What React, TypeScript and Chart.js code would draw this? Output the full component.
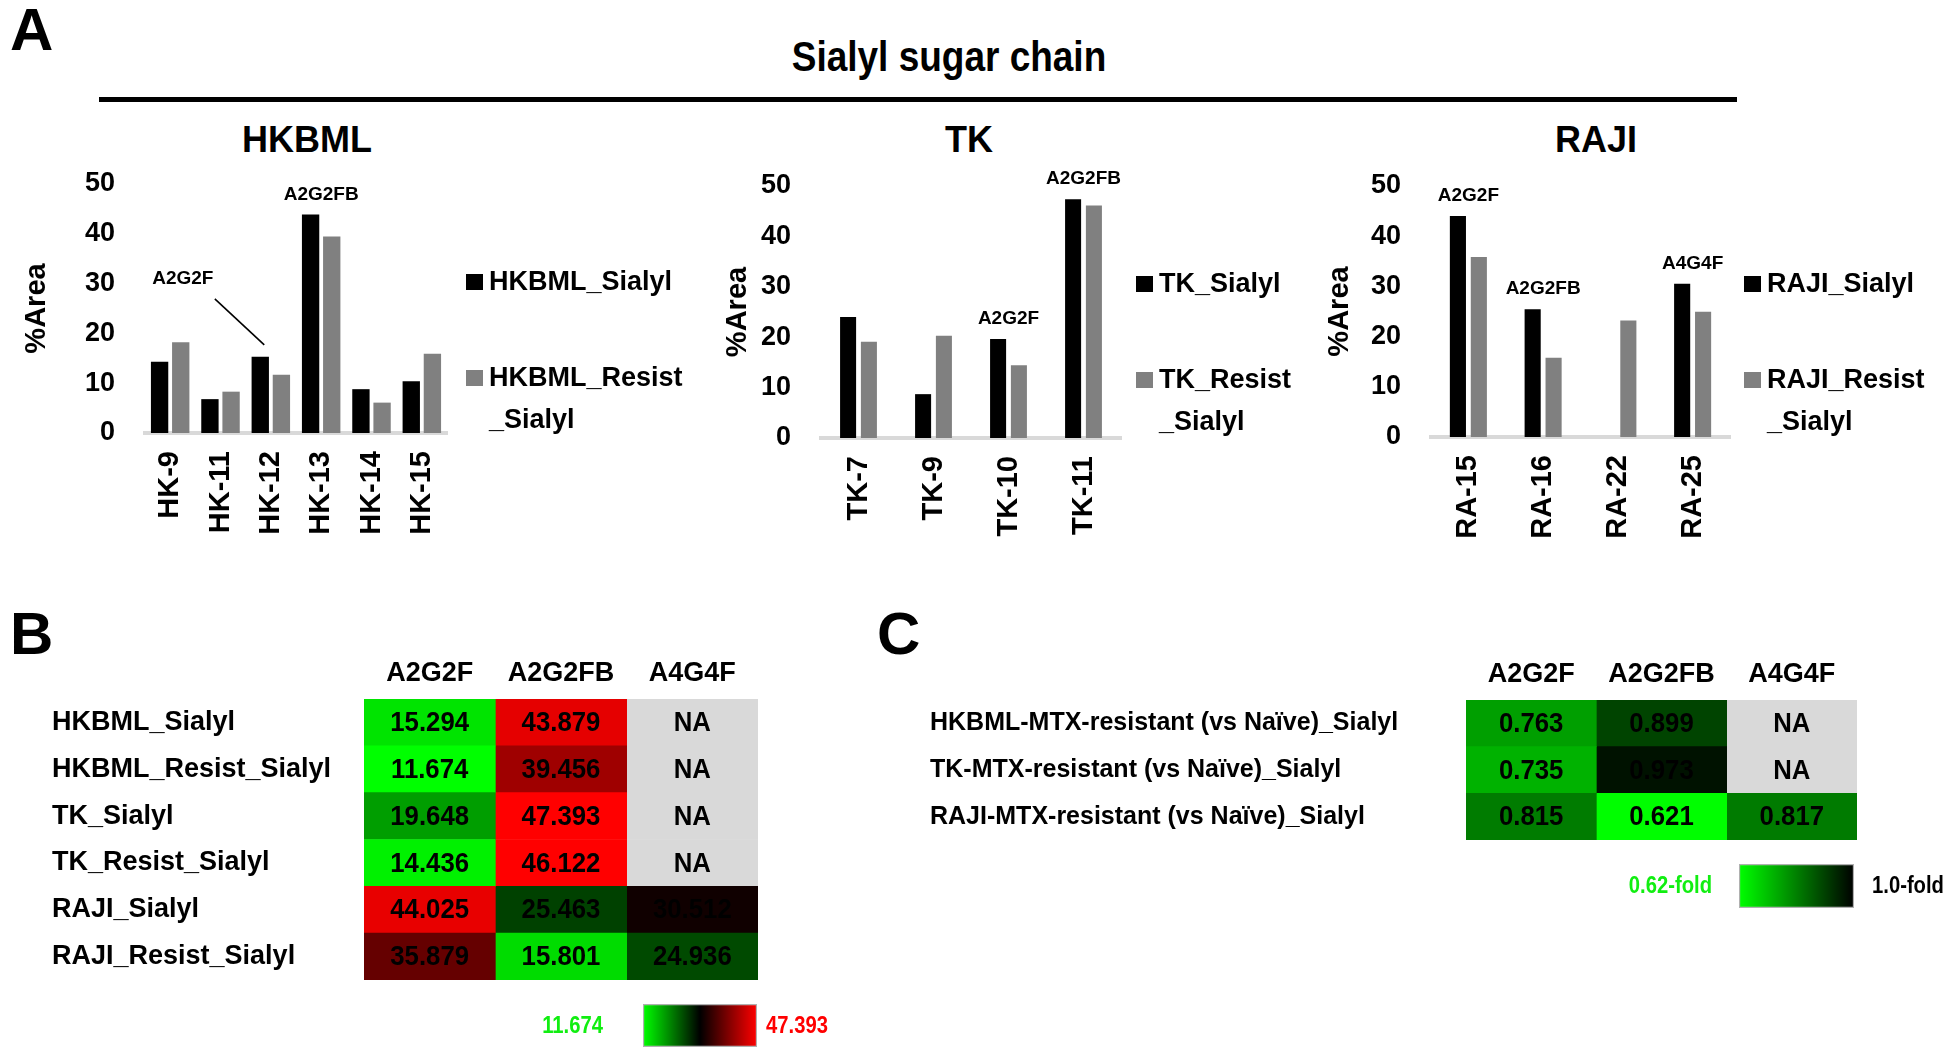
import React, { useEffect, useRef } from 'react';
import { Chart, registerables } from 'chart.js';
Chart.register(...registerables);

const SANS = '"Liberation Sans", Arial, Helvetica, sans-serif';

// ---------------- Panel A data ----------------
const figureTitle = 'Sialyl sugar chain';
const panelTitles = ['HKBML', 'TK', 'RAJI'];
const yAxisTitle = '%Area';

const hkCategories = ['HK-9', 'HK-11', 'HK-12', 'HK-13', 'HK-14', 'HK-15'];
const hkSialyl = [14.3, 6.8, 15.294, 43.879, 8.8, 10.4];
const hkResistSialyl = [18.2, 8.3, 11.674, 39.456, 6.1, 15.9];

const tkCategories = ['TK-7', 'TK-9', 'TK-10', 'TK-11'];
const tkSialyl = [24.0, 8.7, 19.648, 47.393];
const tkResistSialyl = [19.1, 20.3, 14.436, 46.122];

const rajiCategories = ['RA-15', 'RA-16', 'RA-22', 'RA-25'];
const rajiSialyl = [44.025, 25.463, null, 30.512];
const rajiResistSialyl = [35.879, 15.801, 23.2, 24.936];

const hkPeaks = [{ category: 'HK-12', text: 'A2G2F' }, { category: 'HK-13', text: 'A2G2FB' }];
const tkPeaks = [{ category: 'TK-10', text: 'A2G2F' }, { category: 'TK-11', text: 'A2G2FB' }];
const rajiPeaks = [
  { category: 'RA-15', text: 'A2G2F' },
  { category: 'RA-16', text: 'A2G2FB' },
  { category: 'RA-25', text: 'A4G4F' },
];

const areaMin = 0;
const areaMax = 50;
const areaStep = 10;

// ---------------- Panel B data ----------------
const heatColumns = ['A2G2F', 'A2G2FB', 'A4G4F'];
const heatRowsB = ['HKBML_Sialyl', 'HKBML_Resist_Sialyl', 'TK_Sialyl', 'TK_Resist_Sialyl', 'RAJI_Sialyl', 'RAJI_Resist_Sialyl'];
const heatB_A2G2F = [15.294, 11.674, 19.648, 14.436, 44.025, 35.879];
const heatB_A2G2FB = [43.879, 39.456, 47.393, 46.122, 25.463, 15.801];
const heatB_A4G4F = [null, null, null, null, 30.512, 24.936];

// ---------------- Panel C data ----------------
const heatRowsC = [
  'HKBML-MTX-resistant (vs Naïve)_Sialyl',
  'TK-MTX-resistant (vs Naïve)_Sialyl',
  'RAJI-MTX-resistant (vs Naïve)_Sialyl',
];
const heatC_A2G2F = [0.763, 0.735, 0.815];
const heatC_A2G2FB = [0.899, 0.973, 0.621];
const heatC_A4G4F = [null, null, 0.817];
const foldMin = 0.62;
const foldMax = 1.0;
const foldLegendLabels = ['0.62-fold', '1.0-fold'];
const naText = 'NA';

// ---------------- helpers ----------------
type Box = { left: number; top: number; width: number; height: number };
type Area = { left: number; top: number; right: number; bottom: number };

const allB = [...heatB_A2G2F, ...heatB_A2G2FB, ...heatB_A4G4F].filter((v) => v != null) as number[];
const minB = Math.min(...allB);
const maxB = Math.max(...allB);

function colorB(v: number) {
  const mid = (minB + maxB) / 2;
  const half = (maxB - minB) / 2;
  const t = (v - mid) / half;
  const c = Math.round(255 * Math.min(1, Math.abs(t) * 1.12));
  return t < 0 ? `rgb(0,${c},0)` : `rgb(${c},0,0)`;
}
function colorC(v: number) {
  const t = Math.max(0, Math.min(1, (foldMax - v) / (foldMax - foldMin)));
  return `rgb(0,${Math.round(255 * t)},0)`;
}
const NA_COLOR = '#d9d9d9';

function drawText(ctx: CanvasRenderingContext2D, text: string, x: number, y: number, align: CanvasTextAlign, sx: number) {
  ctx.save();
  ctx.translate(x, y);
  ctx.scale(sx, 1);
  ctx.textAlign = align;
  ctx.fillText(text, 0, 0);
  ctx.restore();
}

function ChartBox({ box, make }: { box: Box; make: () => any }) {
  const ref = useRef<HTMLCanvasElement | null>(null);
  useEffect(() => {
    if (!ref.current) return;
    const chart = new Chart(ref.current, make());
    return () => chart.destroy();
  }, []);
  return (
    <div style={{ position: 'absolute', left: box.left, top: box.top, width: box.width, height: box.height }}>
      <canvas ref={ref} width={box.width} height={box.height} style={{ display: 'block', width: box.width, height: box.height }} />
    </div>
  );
}

function Label(props: { text: string; x: number; cy: number; size: number; align?: string; sx?: number; color?: string }) {
  const { text, x, cy, size, align = 'left', sx = 1, color = '#000' } = props;
  const tx = align === 'center' ? 'translateX(-50%) ' : '';
  return (
    <div
      style={{
        position: 'absolute',
        left: x,
        top: cy - 0.4885 * size,
        fontFamily: SANS,
        fontWeight: 'bold',
        fontSize: size,
        lineHeight: 1,
        whiteSpace: 'nowrap',
        color,
        transformOrigin: align === 'center' ? '50% 50%' : '0 50%',
        transform: `${tx}scaleX(${sx})`,
      }}
    >
      {text}
    </div>
  );
}

function wrapLabel(label: string) {
  const first = label.indexOf('_');
  const last = label.lastIndexOf('_');
  if (first !== -1 && first !== last) return [label.slice(0, last), label.slice(last)];
  return [label];
}

type BarPanel = {
  box: Box;
  area: Area;
  categories: string[];
  series: { label: string; data: (number | null)[]; color: string }[];
  peaks: { category: string; text: string }[];
  peakStyle: Record<string, { dx: number; dy: number; leader?: boolean }>;
  catPct: number;
  barPct: number;
  legendGap: number;
  titlePad: number;
};

function barConfig(p: BarPanel) {
  const legendPlugin = {
    id: 'sideLegend',
    afterDraw(chart: any) {
      const ctx = chart.ctx;
      const ca = chart.chartArea;
      const rowOffsets = [98, 194];
      ctx.save();
      ctx.font = `bold 27px ${SANS}`;
      ctx.textBaseline = 'middle';
      ctx.textAlign = 'left';
      chart.data.datasets.forEach((ds: any, i: number) => {
        const y = ca.top + rowOffsets[i];
        const x = ca.right + p.legendGap;
        ctx.fillStyle = ds.backgroundColor;
        ctx.fillRect(x, y - 8, 17, 16);
        ctx.fillStyle = '#000';
        wrapLabel(ds.label).forEach((ln, j) => ctx.fillText(ln, x + 23, y + 1 + j * 42));
      });
      ctx.restore();
    },
  };
  const peakPlugin = {
    id: 'peakLabels',
    afterDatasetsDraw(chart: any) {
      const ctx = chart.ctx;
      ctx.save();
      ctx.font = `bold 19px ${SANS}`;
      ctx.fillStyle = '#000';
      ctx.textAlign = 'center';
      ctx.textBaseline = 'middle';
      p.peaks.forEach((pk) => {
        const i = chart.data.labels.indexOf(pk.category);
        const els = chart.data.datasets
          .map((ds: any, d: number) => ({ el: chart.getDatasetMeta(d).data[i], v: ds.data[i] }))
          .filter((o: any) => o.v != null);
        const top = Math.min(...els.map((o: any) => o.el.y));
        const cx = chart.scales.x.getPixelForValue(i);
        const st = p.peakStyle[pk.category] || { dx: 0, dy: 0 };
        const tx = cx + st.dx;
        const ty = top - 20 + st.dy;
        ctx.fillText(pk.text, tx, ty);
        if (st.leader) {
          ctx.beginPath();
          ctx.moveTo(tx + 32, ty + 20);
          ctx.lineTo(els[0].el.x + 4, top - 12);
          ctx.lineWidth = 1.6;
          ctx.strokeStyle = '#000';
          ctx.stroke();
        }
      });
      ctx.restore();
    },
  };
  const { box, area } = p;
  return {
    type: 'bar',
    data: {
      labels: p.categories,
      datasets: p.series.map((s) => ({
        label: s.label,
        data: s.data,
        backgroundColor: s.color,
        borderWidth: 0,
        categoryPercentage: p.catPct,
        barPercentage: p.barPct,
      })),
    },
    options: {
      responsive: false,
      animation: false,
      layout: { padding: { left: 0, top: area.top - box.top, right: box.left + box.width - area.right, bottom: 0 } },
      plugins: { legend: { display: false }, tooltip: { enabled: false }, title: { display: false } },
      scales: {
        x: {
          grid: { display: false, drawTicks: false },
          border: { display: true, color: '#d9d9d9', width: 4 },
          ticks: {
            font: { family: SANS, size: 29, weight: 'bold' },
            color: '#000',
            minRotation: 90,
            maxRotation: 90,
            padding: 18,
            autoSkip: false,
          },
          afterFit: (s: any) => {
            s.height = box.top + box.height - area.bottom;
          },
        },
        y: {
          min: areaMin,
          max: areaMax,
          grid: { display: false, drawTicks: false },
          border: { display: false },
          ticks: { stepSize: areaStep, font: { family: SANS, size: 27, weight: 'bold' }, color: '#000', padding: 30 },
          title: {
            display: true,
            text: yAxisTitle,
            color: '#000',
            font: { family: SANS, size: 29, weight: 'bold' },
            padding: { top: p.titlePad, bottom: 0 },
          },
          afterFit: (s: any) => {
            s.width = area.left - box.left;
          },
        },
      },
    },
    plugins: [legendPlugin, peakPlugin],
  };
}

type HeatPanel = {
  box: Box;
  area: Area;
  rows: string[];
  columns: (number | null)[][];
  colorFn: (v: number) => string;
  rowFont: number;
};

function heatConfig(p: HeatPanel) {
  const { box, area } = p;
  const textPlugin = {
    id: 'cellText',
    afterDatasetsDraw(chart: any) {
      const ctx = chart.ctx;
      ctx.save();
      ctx.font = `bold 28px ${SANS}`;
      ctx.fillStyle = '#000';
      ctx.textBaseline = 'middle';
      chart.data.datasets.forEach((_ds: any, ci: number) => {
        chart.getDatasetMeta(ci).data.forEach((el: any, ri: number) => {
          const v = p.columns[ci][ri];
          drawText(ctx, v == null ? naText : v.toFixed(3), (el.x + el.base) / 2, el.y + 1, 'center', 0.92);
        });
      });
      ctx.restore();
    },
  };
  return {
    type: 'bar',
    data: {
      labels: p.rows,
      datasets: heatColumns.map((c, ci) => ({
        label: c,
        data: p.rows.map(() => 1),
        backgroundColor: p.columns[ci].map((v) => (v == null ? NA_COLOR : p.colorFn(v))),
        borderWidth: 0,
        barPercentage: 1,
        categoryPercentage: 1,
      })),
    },
    options: {
      indexAxis: 'y',
      responsive: false,
      animation: false,
      layout: { padding: { left: 0, top: 0, right: box.left + box.width - area.right, bottom: box.top + box.height - area.bottom } },
      plugins: { legend: { display: false }, tooltip: { enabled: false } },
      scales: {
        x: {
          type: 'linear',
          position: 'top',
          min: 0,
          max: heatColumns.length,
          stacked: true,
          grid: { display: false, drawTicks: false },
          border: { display: false },
          afterBuildTicks: (s: any) => {
            s.ticks = heatColumns.map((_c, i) => ({ value: i + 0.5 }));
          },
          ticks: {
            callback: (_v: any, i: number) => heatColumns[i],
            font: { family: SANS, size: 27, weight: 'bold' },
            color: '#000',
            padding: 9,
            autoSkip: false,
            maxRotation: 0,
          },
          afterFit: (s: any) => {
            s.height = area.top - box.top;
          },
        },
        y: {
          stacked: true,
          grid: { display: false, drawTicks: false },
          border: { display: false },
          ticks: { crossAlign: 'far', font: { family: SANS, size: p.rowFont, weight: 'bold' }, color: '#000', autoSkip: false },
          afterFit: (s: any) => {
            s.width = area.left - box.left;
          },
        },
      },
    },
    plugins: [textPlugin],
  };
}

type ScalePanel = {
  box: Box;
  area: Area;
  range: [number, number];
  stops: string[];
  labels: string[];
  labelColors: string[];
  gaps: [number, number];
};

function scaleConfig(p: ScalePanel) {
  const { box, area } = p;
  const labelPlugin = {
    id: 'scaleLabels',
    afterDraw(chart: any) {
      const ctx = chart.ctx;
      const ca = chart.chartArea;
      const y = (ca.top + ca.bottom) / 2 + 1;
      ctx.save();
      ctx.font = `bold 23px ${SANS}`;
      ctx.textBaseline = 'middle';
      ctx.fillStyle = p.labelColors[0];
      drawText(ctx, p.labels[0], ca.left - p.gaps[0], y, 'right', 0.88);
      ctx.fillStyle = p.labelColors[1];
      drawText(ctx, p.labels[1], ca.right + p.gaps[1], y, 'left', 0.88);
      ctx.restore();
    },
  };
  return {
    type: 'bar',
    data: {
      labels: ['scale'],
      datasets: [
        {
          data: [p.range],
          backgroundColor: (c: any) => {
            const ca = c.chart.chartArea;
            if (!ca) return '#000';
            const g = c.chart.ctx.createLinearGradient(ca.left, 0, ca.right, 0);
            p.stops.forEach((s, i) => g.addColorStop(i / (p.stops.length - 1), s));
            return g;
          },
          borderColor: '#b0b0b0',
          borderWidth: 1.5,
          borderSkipped: false,
          barPercentage: 1,
          categoryPercentage: 1,
        },
      ],
    },
    options: {
      indexAxis: 'y',
      responsive: false,
      animation: false,
      layout: {
        padding: {
          left: area.left - box.left,
          right: box.left + box.width - area.right,
          top: area.top - box.top,
          bottom: box.top + box.height - area.bottom,
        },
      },
      plugins: { legend: { display: false }, tooltip: { enabled: false } },
      scales: {
        x: { type: 'linear', min: p.range[0], max: p.range[1], display: false },
        y: { display: false },
      },
    },
    plugins: [labelPlugin],
  };
}

// ---------------- panels ----------------
const hkPanel: BarPanel = {
  box: { left: 0, top: 110, width: 700, height: 440 },
  area: { left: 145, top: 184, right: 447, bottom: 433 },
  categories: hkCategories,
  series: [
    { label: 'HKBML_Sialyl', data: hkSialyl, color: '#000000' },
    { label: 'HKBML_Resist_Sialyl', data: hkResistSialyl, color: '#808080' },
  ],
  peaks: hkPeaks,
  peakStyle: { 'HK-12': { dx: -88, dy: -58, leader: true } },
  catPct: 0.84,
  barPct: 0.82,
  legendGap: 19,
  titlePad: 20,
};
const tkPanel: BarPanel = {
  box: { left: 700, top: 110, width: 620, height: 440 },
  area: { left: 821, top: 186, right: 1121, bottom: 438 },
  categories: tkCategories,
  series: [
    { label: 'TK_Sialyl', data: tkSialyl, color: '#000000' },
    { label: 'TK_Resist_Sialyl', data: tkResistSialyl, color: '#808080' },
  ],
  peaks: tkPeaks,
  peakStyle: {},
  catPct: 0.555,
  barPct: 0.77,
  legendGap: 15,
  titlePad: 21,
};
const rajiPanel: BarPanel = {
  box: { left: 1320, top: 110, width: 626, height: 440 },
  area: { left: 1431, top: 186, right: 1730, bottom: 437 },
  categories: rajiCategories,
  series: [
    { label: 'RAJI_Sialyl', data: rajiSialyl, color: '#000000' },
    { label: 'RAJI_Resist_Sialyl', data: rajiResistSialyl, color: '#808080' },
  ],
  peaks: rajiPeaks,
  peakStyle: {},
  catPct: 0.56,
  barPct: 0.77,
  legendGap: 14,
  titlePad: 3,
};

const heatB: HeatPanel = {
  box: { left: 52, top: 640, width: 728, height: 370 },
  area: { left: 364, top: 699, right: 758, bottom: 980 },
  rows: heatRowsB,
  columns: [heatB_A2G2F, heatB_A2G2FB, heatB_A4G4F],
  colorFn: colorB,
  rowFont: 27,
};
const heatC: HeatPanel = {
  box: { left: 930, top: 640, width: 1016, height: 240 },
  area: { left: 1466, top: 700, right: 1857, bottom: 840 },
  rows: heatRowsC,
  columns: [heatC_A2G2F, heatC_A2G2FB, heatC_A4G4F],
  colorFn: colorC,
  rowFont: 25,
};
const scaleB: ScalePanel = {
  box: { left: 500, top: 995, width: 360, height: 55 },
  area: { left: 643, top: 1004, right: 757, bottom: 1047 },
  range: [minB, maxB],
  stops: ['#00ff00', '#000000', '#ff0000'],
  labels: [minB.toFixed(3), maxB.toFixed(3)],
  labelColors: ['#11ee11', '#ff0000'],
  gaps: [40, 9],
};
const scaleC: ScalePanel = {
  box: { left: 1600, top: 855, width: 346, height: 60 },
  area: { left: 1739, top: 864, right: 1854, bottom: 908 },
  range: [foldMin, foldMax],
  stops: ['#00ff00', '#000000'],
  labels: foldLegendLabels,
  labelColors: ['#11ee11', '#000000'],
  gaps: [27, 18],
};

export default function App() {
  return (
    <div style={{ position: 'absolute', left: 0, top: 0, width: 1946, height: 1050, background: '#fff', overflow: 'hidden' }}>
      <Label text="A" x={10} cy={29} size={60} />
      <Label text={figureTitle} x={949} cy={56} size={43} sx={0.86} align="center" />
      <div style={{ position: 'absolute', left: 99, top: 97, width: 1638, height: 5, background: '#000' }} />
      <Label text={panelTitles[0]} x={307} cy={140} size={36} align="center" />
      <Label text={panelTitles[1]} x={969} cy={140} size={36} align="center" />
      <Label text={panelTitles[2]} x={1596} cy={140} size={36} align="center" />
      <ChartBox box={hkPanel.box} make={() => barConfig(hkPanel)} />
      <ChartBox box={tkPanel.box} make={() => barConfig(tkPanel)} />
      <ChartBox box={rajiPanel.box} make={() => barConfig(rajiPanel)} />
      <Label text="B" x={10} cy={633} size={60} />
      <Label text="C" x={877} cy={633} size={60} />
      <ChartBox box={heatB.box} make={() => heatConfig(heatB)} />
      <ChartBox box={heatC.box} make={() => heatConfig(heatC)} />
      <ChartBox box={scaleB.box} make={() => scaleConfig(scaleB)} />
      <ChartBox box={scaleC.box} make={() => scaleConfig(scaleC)} />
    </div>
  );
}
